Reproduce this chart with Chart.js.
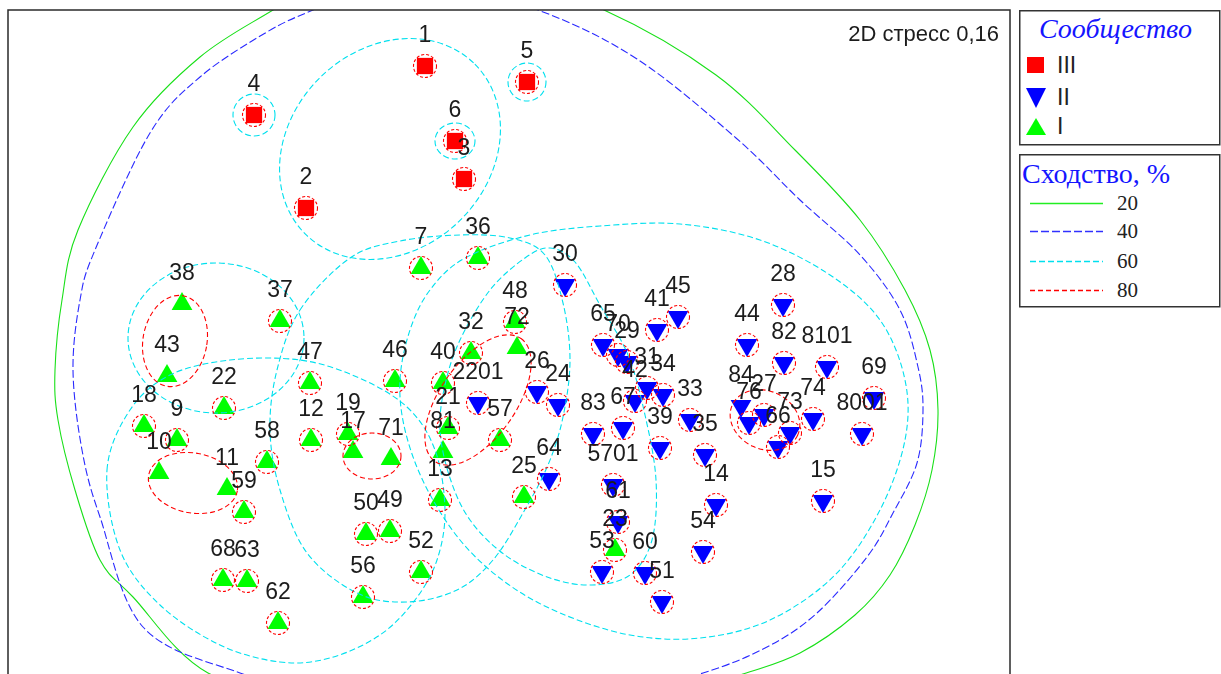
<!DOCTYPE html>
<html>
<head>
<meta charset="utf-8">
<script src="https://cdn.jsdelivr.net/npm/chart.js@4.4.1/dist/chart.umd.min.js"></script>
<style>
  html, body { margin: 0; padding: 0; background: #fff; overflow: hidden; }
  #wrap { position: absolute; left: 0; top: 0; width: 1221px; height: 700px; }
  #legend { position: absolute; left: 1010px; top: 0; }
</style>
</head>
<body>
<div id="wrap"><canvas id="mds" width="1221" height="700"></canvas></div>

<svg id="legend" width="211" height="320">
  <!-- community box -->
  <rect x="9.75" y="10.75" width="200" height="134" fill="#fff" stroke="#333" stroke-width="1.5"/>
  <text x="29" y="38" font-family="Liberation Serif" font-style="italic" font-size="28" fill="#1515ff">Сообщество</text>
  <rect x="17" y="57" width="17" height="16" fill="#ff0000"/>
  <text x="47" y="73" font-family="Liberation Sans" font-size="23" fill="#222">III</text>
  <polygon points="16,88 36,88 26,108" fill="#0000ff"/>
  <text x="47" y="105" font-family="Liberation Sans" font-size="23" fill="#222">II</text>
  <polygon points="26,118 36,135 16,135" fill="#00ff00"/>
  <text x="47" y="134" font-family="Liberation Sans" font-size="23" fill="#222">I</text>
  <!-- similarity box -->
  <rect x="9.75" y="154.75" width="200" height="152" fill="#fff" stroke="#333" stroke-width="1.5"/>
  <text x="12" y="183" font-family="Liberation Serif" font-size="28" fill="#1515ff">Сходство, %</text>
  <line x1="20" y1="203.5" x2="93" y2="203.5" stroke="#22ee22" stroke-width="1.5"/>
  <text x="107" y="210" font-family="Liberation Serif" font-size="21" fill="#222">20</text>
  <line x1="20" y1="231.5" x2="93" y2="231.5" stroke="#3030ff" stroke-width="1.5" stroke-dasharray="8,3"/>
  <text x="107" y="238" font-family="Liberation Serif" font-size="21" fill="#222">40</text>
  <line x1="20" y1="261.5" x2="93" y2="261.5" stroke="#00e0ee" stroke-width="1.5" stroke-dasharray="6,3"/>
  <text x="107" y="268" font-family="Liberation Serif" font-size="21" fill="#222">60</text>
  <line x1="20" y1="290.5" x2="93" y2="290.5" stroke="#ff0000" stroke-width="1.5" stroke-dasharray="5,3"/>
  <text x="107" y="297" font-family="Liberation Serif" font-size="21" fill="#222">80</text>
</svg>

<script>
// Community III (red squares)
const labelsIII = ['1', '5', '4', '6', '3', '2'];
const xIII = [425, 527, 254, 455, 464, 306];
const yIII = [66, 82, 115, 141, 179, 208];

// Community II (blue triangles down)
const labelsII = ['30', '26', '24', '2201', '64', '5701', '61', '53', '60', '51', '54', '14', '35', '39',
  '33', '67', '83', '42', '31', '34', '65', '70', '29', '41', '45', '28', '44', '82', '8101', '69',
  '8001', '74', '15', '84', '76', '27', '73', '66'];
const xII = [565, 537, 558, 478, 549, 613, 618, 602, 645, 662, 703, 716, 705, 660,
  690, 623, 593, 635, 647, 663, 603, 618, 627, 657, 678, 783, 747, 784, 827, 874,
  862, 813, 823, 741, 749, 764, 790, 778];
const yII = [285, 392, 405, 403, 479, 485, 522, 572, 573, 602, 552, 505, 455, 448,
  420, 428, 434, 401, 388, 395, 345, 355, 362, 330, 317, 305, 345, 363, 367, 398,
  434, 419, 501, 406, 423, 415, 433, 447];

// Community I (green triangles up)
const labelsI = ['7', '36', '38', '37', '43', '47', '46', '32', '48', '72', '40', '21', '81', '13', '57',
  '25', '22', '18', '9', '10', '11', '59', '58', '12', '19', '17', '71', '50', '49', '56', '52',
  '68', '63', '62', '23'];
const xI = [421, 478, 182, 280, 167, 310, 395, 471, 515, 517, 443, 448, 443, 440, 500,
  524, 224, 144, 177, 159, 227, 244, 267, 311, 348, 353, 391, 366, 390, 363, 421,
  223, 247, 278, 615];
const yI = [268, 258, 304, 321, 376, 383, 381, 353, 322, 348, 383, 428, 452, 500, 440,
  497, 408, 426, 440, 473, 489, 512, 462, 440, 434, 452, 459, 534, 531, 597, 572,
  580, 581, 623, 550];

// samples without their own 80% circle (they sit inside an 80% group)
const inGroup80 = ['38', '43', '10', '11', '17', '71', '72', '81', '84'];

// similarity outlines: [cx, cy, rx, ry, rotation deg]
const ellipses60 = [[254, 115, 21, 21, 0], [527, 82, 19, 19, 0], [455, 141, 20, 18, 0],
  [390, 149, 120, 100, -45], [216, 338, 88, 75, 0]];
const ellipses80 = [[175, 341, 32, 46, 10], [193, 483, 45, 30, 10], [372, 456, 29, 23, 0],
  [478, 400, 75, 38, -55], [765, 420, 36, 29, 25]];

// free-form outlines
const outline20 = [[440, -50], [604, 10], [716, 75], [795, 150], [860, 220], [905, 290], [930, 350],
  [938, 410], [932, 470], [915, 525], [890, 575], [855, 615], [800, 653], [743, 674], [640, 705],
  [480, 718], [330, 705], [208, 673], [133, 597], [100, 560], [75, 490], [58, 420], [55, 370],
  [62, 300], [78, 230], [133, 127], [200, 57], [273, 10], [350, -35]];
const outline40 = [[425, -20], [538, 10], [637, 59], [736, 138], [800, 200], [860, 255], [900, 310],
  [918, 367], [923, 410], [917, 463], [893, 513], [867, 557], [817, 613], [767, 647], [703, 673],
  [600, 700], [470, 712], [340, 700], [240, 673], [143, 627], [100, 517], [82, 450], [73, 370],
  [80, 300], [95, 250], [150, 133], [200, 77], [267, 32], [313, 10], [370, -12]];
const outlines60 = [
  [[300, 310], [350, 258], [400, 241], [460, 235], [510, 238], [545, 255], [563, 303], [570, 360],
   [563, 417], [548, 465], [523, 513], [493, 560], [457, 590], [407, 602], [357, 593], [307, 553],
   [280, 490], [270, 430], [277, 370]],
  [[107, 470], [130, 410], [170, 375], [230, 360], [300, 360], [357, 377], [407, 407], [435, 450],
   [445, 510], [437, 560], [415, 600], [380, 635], [330, 658], [280, 662], [220, 645], [160, 605],
   [120, 550]],
  [[400, 380], [410, 330], [430, 290], [465, 258], [530, 235], [600, 226], [680, 224], [760, 240],
   [830, 275], [880, 320], [905, 380], [905, 440], [880, 510], [835, 575], [770, 620], [700, 638],
   [630, 635], [560, 613], [505, 582], [460, 540], [425, 485], [405, 430]],
  [[440, 430], [445, 385], [460, 340], [490, 290], [525, 258], [550, 248], [575, 262], [600, 305],
   [628, 355], [645, 415], [656, 480], [652, 540], [630, 575], [592, 585], [550, 578], [505, 555],
   [470, 520], [450, 478]]
];

const stressText = '2D стресс 0,16';

const styles = {
  20: { color: '#18e018', dash: [] },
  40: { color: '#2a2aff', dash: [8, 3] },
  60: { color: '#00e0ee', dash: [6, 3] },
  80: { color: '#ff0000', dash: [5, 3] }
};

function toPoints(labels, xs, ys) {
  return labels.map((l, i) => ({ x: xs[i], y: ys[i], name: l }));
}

// closed smooth curve through the outline points
function smoothLoop(ctx, pts) {
  const n = pts.length;
  ctx.beginPath();
  ctx.moveTo(pts[0][0], pts[0][1]);
  for (let i = 0; i < n; i++) {
    const p0 = pts[(i - 1 + n) % n], p1 = pts[i], p2 = pts[(i + 1) % n], p3 = pts[(i + 2) % n];
    ctx.bezierCurveTo(
      p1[0] + (p2[0] - p0[0]) / 6, p1[1] + (p2[1] - p0[1]) / 6,
      p2[0] - (p3[0] - p1[0]) / 6, p2[1] - (p3[1] - p1[1]) / 6,
      p2[0], p2[1]);
  }
  ctx.closePath();
  ctx.stroke();
}

const overlay = {
  id: 'overlay',
  afterDatasetsDraw(chart) {
    const ctx = chart.ctx, a = chart.chartArea;
    const sx = chart.scales.x, sy = chart.scales.y;
    const px = v => sx.getPixelForValue(v), py = v => sy.getPixelForValue(v);
    const ppu = Math.abs(px(1) - px(0));

    ctx.save();
    ctx.beginPath();
    ctx.rect(a.left, a.top, a.right - a.left, a.bottom - a.top);
    ctx.clip();
    ctx.lineWidth = 1.1;

    const setLevel = lv => { ctx.strokeStyle = styles[lv].color; ctx.setLineDash(styles[lv].dash); };
    const drawOutline = o => smoothLoop(ctx, o.map(p => [px(p[0]), py(p[1])]));
    const drawEllipse = e => {
      ctx.beginPath();
      ctx.ellipse(px(e[0]), py(e[1]), e[2] * ppu, e[3] * ppu, e[4] * Math.PI / 180, 0, Math.PI * 2);
      ctx.stroke();
    };

    setLevel(20); drawOutline(outline20);
    setLevel(40); drawOutline(outline40);
    setLevel(60); outlines60.forEach(drawOutline); ellipses60.forEach(drawEllipse);
    setLevel(80); ellipses80.forEach(drawEllipse);

    // 80% circles around single samples
    ctx.setLineDash([3, 2]);
    chart.data.datasets.forEach(ds => {
      ds.data.forEach(p => {
        if (inGroup80.includes(p.name)) return;
        ctx.beginPath();
        ctx.arc(px(p.x), py(p.y), 11.5, 0, Math.PI * 2);
        ctx.stroke();
      });
    });
    ctx.setLineDash([]);

    // sample labels
    ctx.fillStyle = '#1c1c1c';
    ctx.font = '23px "Liberation Sans", Arial, sans-serif';
    ctx.textAlign = 'center';
    ctx.textBaseline = 'middle';
    chart.data.datasets.forEach(ds => {
      ds.data.forEach(p => ctx.fillText(p.name, px(p.x), py(p.y) - 30));
    });

    ctx.textAlign = 'right';
    ctx.textBaseline = 'alphabetic';
    ctx.font = '22px "Liberation Sans", Arial, sans-serif';
    ctx.fillText(stressText, a.right - 11, a.top + 31);
    ctx.restore();

    // frame
    ctx.save();
    ctx.strokeStyle = '#2a2a2a';
    ctx.lineWidth = 1.5;
    ctx.strokeRect(a.left, a.top, a.right - a.left, a.bottom - a.top);
    ctx.restore();
  }
};

new Chart(document.getElementById('mds').getContext('2d'), {
  type: 'scatter',
  data: {
    datasets: [
      { label: 'III', data: toPoints(labelsIII, xIII, yIII), pointStyle: 'rect', pointRadius: 11.5,
        backgroundColor: '#ff0000', borderWidth: 0 },
      { label: 'II', data: toPoints(labelsII, xII, yII), pointStyle: 'triangle', rotation: 180,
        pointRadius: 12, backgroundColor: '#0000ff', borderWidth: 0 },
      { label: 'I', data: toPoints(labelsI, xI, yI), pointStyle: 'triangle', pointRadius: 12,
        backgroundColor: '#00ff00', borderWidth: 0 }
    ]
  },
  options: {
    responsive: false,
    animation: false,
    events: [],
    layout: { autoPadding: false, padding: { left: 8, right: 211, top: 10, bottom: 10 } },
    scales: {
      x: { type: 'linear', min: 8, max: 1010, display: false },
      y: { type: 'linear', min: 10, max: 690, reverse: true, display: false }
    },
    plugins: { legend: { display: false }, tooltip: { enabled: false } }
  },
  plugins: [overlay]
});
</script>
</body>
</html>
